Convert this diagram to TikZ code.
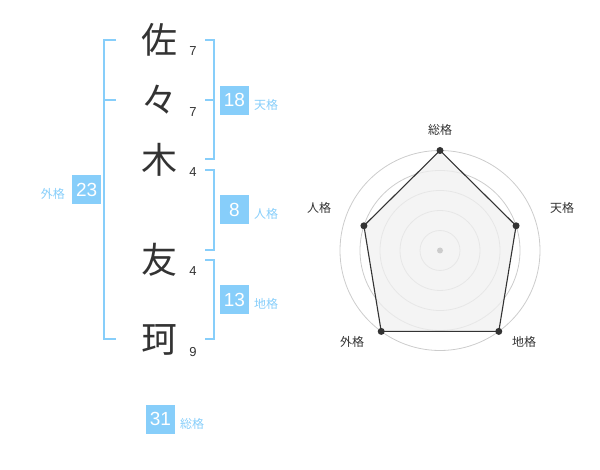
\documentclass[tikz,border=0pt]{standalone}
\usepackage{fontspec}
\usetikzlibrary{calc}
\setmainfont{Liberation Sans}
\newfontfamily\cjk{Noto Sans CJK JP}
\definecolor{kblue}{RGB}{135,206,250}
\definecolor{kdark}{RGB}{51,51,51}
\definecolor{kgrid}{RGB}{204,204,204}
\definecolor{kfill}{RGB}{240,240,240}
\begin{document}
\begin{tikzpicture}[x=1pt,y=-1pt,
  bigchar/.style={font=\cjk\fontsize{36}{40}\selectfont,text=kdark,inner sep=0pt},
  strokes/.style={font=\fontsize{13}{15}\selectfont,text=kdark,inner sep=0pt},
  badge/.style={fill=kblue,text=white,minimum size=29pt,inner sep=0pt,font=\fontsize{19}{21}\selectfont},
  kaku/.style={text=kblue,font=\cjk\fontsize{12}{14}\selectfont,inner sep=0pt},
  bracket/.style={draw=kblue,line width=2pt},
  axislabel/.style={text=kdark,font=\cjk\fontsize{12}{14}\selectfont,inner sep=0pt},
  gridc/.style={draw=kgrid,line width=0.8pt},
  vdot/.style={circle,fill=kdark,minimum size=7pt,inner sep=0pt}]
\useasboundingbox (0,0) rectangle (600,470);
% characters
\node[bigchar] (c1) at (159,40) {佐};
\node[bigchar] (c2) at (159,100) {々};
\node[bigchar] (c3) at (159,160) {木};
\node[bigchar] (c4) at (159,260) {友};
\node[bigchar] (c5) at (159,340) {珂};
\node[strokes] (s1) at (193,51) {7};
\node[strokes] (s2) at (193,112) {7};
\node[strokes] (s3) at (193,172) {4};
\node[strokes] (s4) at (193,271) {4};
\node[strokes] (s5) at (193,352) {9};
% brackets
\draw[bracket] (116,40) -- (104,40) -- (104,339) -- (116,339);
\draw[bracket] (104,100) -- (116,100);
\draw[bracket] (205,40) -- (214,40) -- (214,159) -- (205,159);
\draw[bracket] (205,100) -- (214,100);
\draw[bracket] (205,170) -- (214,170) -- (214,250) -- (205,250);
\draw[bracket] (205,260) -- (214,260) -- (214,339) -- (205,339);
% badges
\node[badge] (b18) at (234.5,100.3) {18};
\node[kaku,anchor=west] (l18) at (254,105) {天格};
\node[badge] (b8) at (234.5,210) {8};
\node[kaku,anchor=west] (l8) at (254,213.5) {人格};
\node[badge] (b13) at (234.5,300) {13};
\node[kaku,anchor=west] (l13) at (254,304) {地格};
\node[badge] (b23) at (86.7,190) {23};
\node[kaku,anchor=east] (l23) at (65,194) {外格};
\node[badge] (b31) at (160.5,419) {31};
\node[kaku,anchor=west] (l31) at (180,423.5) {総格};
% radar
\coordinate (rc) at (440,250.5);
\foreach \r in {20,40,60,80,100} \draw[gridc] (rc) circle (\r pt);
\coordinate (pS) at ($(rc)+(-90:100)$);
\coordinate (pT) at ($(rc)+(-18:80)$);
\coordinate (pC) at ($(rc)+(54:100)$);
\coordinate (pG) at ($(rc)+(126:100)$);
\coordinate (pJ) at ($(rc)+(198:80)$);
\filldraw[fill=kfill,fill opacity=0.75,draw=kdark,line width=1.1pt] (pS) -- (pT) -- (pC) -- (pG) -- (pJ) -- cycle;
\node[circle,fill=kgrid,minimum size=6pt,inner sep=0pt] (cdot) at (rc) {};
\foreach \p in {pS,pT,pC,pG,pJ} \node[vdot] at (\p) {};
\node[axislabel] (aS) at (440,130) {総格};
\node[axislabel] (aT) at (562,208) {天格};
\node[axislabel] (aJ) at (319,208) {人格};
\node[axislabel] (aG) at (352,342) {外格};
\node[axislabel] (aC) at (524,342) {地格};
\end{tikzpicture}
\end{document}
